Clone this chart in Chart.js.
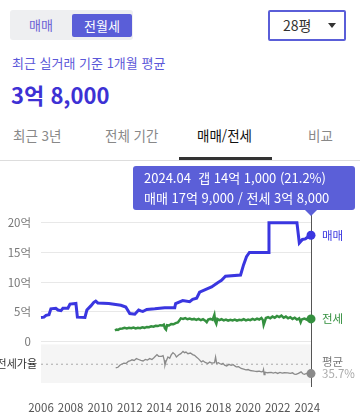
<!DOCTYPE html>
<html lang="ko">
<head>
<meta charset="utf-8">
<script src="https://cdn.jsdelivr.net/npm/chart.js@4.4.1/dist/chart.umd.min.js"></script>
<style>
  body { margin: 0; width: 360px; height: 412px; overflow: hidden; background: #fff; position: relative;
         font-family: "Noto Sans CJK KR", "Noto Sans", sans-serif; }
  .abs { position: absolute; white-space: nowrap; }
  .toggle { left: 10px; top: 10px; width: 123px; height: 30px; background: #eeeff1; border-radius: 3px; }
  .toggle .off { position: absolute; left: 0; top: 0; width: 62px; line-height: 30px; text-align: center; color: #6b63d6; font-size: 13px; }
  .toggle .on { position: absolute; left: 62px; top: 4px; width: 60px; height: 23px; line-height: 23px; text-align: center;
                background: #5a5ed8; color: #fff; font-size: 13px; border-radius: 2px; }
  .select { left: 268px; top: 10px; width: 74px; height: 27px; border: 2px solid #5a5ed8; border-radius: 2px; }
  .select span { position: absolute; left: 13px; top: 0; line-height: 27px; font-size: 14px; color: #333; }
  .select i { position: absolute; left: 58px; top: 11px; width: 0; height: 0; border-left: 4px solid transparent;
              border-right: 4px solid transparent; border-top: 5px solid #333; }
  .sub { left: 12px; top: 53px; line-height: 20px; font-size: 13px; color: #5b57d9; }
  .big { left: 11px; top: 79px; line-height: 30px; font-size: 22px; font-weight: bold; color: #3d31d4; }
  .tab { top: 125px; line-height: 20px; font-size: 13.5px; color: #888; }
  .tab.active { color: #111; }
  .tip { left: 133px; top: 166px; width: 222px; height: 44px; background: #5b5fd8; border-radius: 3px; color: #fff; font-size: 13px; }
  .tip div { position: absolute; left: 11px; line-height: 18px; }
  .arrow { left: 305px; top: 210px; width: 0; height: 0; border-left: 6px solid transparent; border-right: 6px solid transparent;
           border-top: 6px solid #5b5fd8; }
  #wrap { position: absolute; left: 0; top: 200px; width: 360px; height: 212px; }
</style>
</head>
<body>
<div class="abs toggle"><div class="off">매매</div><div class="on">전월세</div></div>
<div class="abs select"><span>28평</span><i></i></div>
<div class="abs sub">최근 실거래 기준 1개월 평균</div>
<div class="abs big">3억 8,000</div>

<div class="abs tab" style="left:13px">최근 3년</div>
<div class="abs tab" style="left:105px">전체 기간</div>
<div class="abs tab active" style="left:197px">매매/전세</div>
<div class="abs tab" style="left:308px">비교</div>
<div class="abs" style="left:0;top:160px;width:360px;height:1px;background:#ddd"></div>
<div class="abs" style="left:179px;top:157px;width:93px;height:3px;background:#333"></div>

<div id="wrap"><canvas id="chart" width="360" height="212"></canvas></div>

<div class="abs tip">
  <div style="top:3px">2024.04&nbsp; 갭 14억 1,000 (21.2%)</div>
  <div style="top:23px">매매 17억 9,000 / 전세 3억 8,000</div>
</div>
<div class="abs arrow"></div>

<script>
// values (x = year, y = 억 / %)
const maemaeX = [2006.0, 2006.2, 2006.34, 2006.54, 2006.67, 2007.0, 2007.15, 2007.35, 2007.48, 2007.82, 2007.96, 2008.36,
  2008.46, 2008.97, 2009.1, 2009.37, 2009.57, 2009.7, 2009.84, 2010.58, 2011.4, 2011.73, 2012.0, 2012.34, 2012.6, 2012.74,
  2012.88, 2013.15, 2013.69, 2014.36, 2015.04, 2015.1, 2015.58, 2016.05, 2016.25, 2016.52, 2016.72, 2017.26, 2017.53,
  2017.94, 2018.2, 2018.47, 2019.49, 2019.69, 2019.89, 2020.09, 2021.37, 2021.41, 2023.3, 2023.46, 2023.67, 2023.87,
  2024.04, 2024.25];
const maemaeY = [4.05, 4.1, 4.4, 4.5, 5.5, 5.6, 5.3, 5.2, 5.6, 5.6, 6.3, 6.4,
  4.1, 4.05, 5.3, 6.0, 6.6, 6.8, 6.5, 6.4, 6.1, 5.8, 4.7, 4.6, 5.3, 5.15,
  5.05, 5.4, 5.5, 5.7, 5.7, 6.4, 6.9, 6.7, 7.1, 7.3, 8.3, 8.9, 9.2,
  9.9, 10.3, 11.0, 11.2, 12.9, 14.3, 15.0, 15.0, 20.0, 20.0, 16.6, 17.2, 17.3,
  17.6, 17.9];

const jeonseX = [2011.0, 2011.1, 2011.2, 2011.35, 2011.5, 2011.65, 2011.8, 2011.95, 2012.1, 2012.25, 2012.4, 2012.55,
  2012.7, 2012.85, 2013.0, 2013.15, 2013.3, 2013.45, 2013.6, 2013.75, 2013.9, 2014.05, 2014.2, 2014.3, 2014.38, 2014.45,
  2014.52, 2014.65, 2014.8, 2014.95, 2015.1, 2015.25, 2015.35, 2015.45, 2015.6, 2015.75, 2015.9, 2016.05, 2016.2, 2016.35,
  2016.5, 2016.65, 2016.8, 2016.95, 2017.1, 2017.2, 2017.3, 2017.45, 2017.6, 2017.72, 2017.78, 2017.85, 2017.92, 2018.05,
  2018.2, 2018.35, 2018.5, 2018.65, 2018.8, 2018.95, 2019.1, 2019.25, 2019.4, 2019.55, 2019.7, 2019.85, 2020.0, 2020.15,
  2020.3, 2020.45, 2020.6, 2020.75, 2020.9, 2021.0, 2021.05, 2021.12, 2021.2, 2021.35, 2021.5, 2021.65, 2021.8, 2021.95,
  2022.1, 2022.25, 2022.4, 2022.55, 2022.7, 2022.85, 2023.0, 2023.15, 2023.3, 2023.45, 2023.55, 2023.62, 2023.8, 2023.95,
  2024.1, 2024.25];
const jeonseY = [1.85, 2.0, 1.95, 2.15, 2.2, 2.3, 2.2, 2.3, 2.25, 2.35, 2.2, 2.3,
  2.25, 2.4, 2.3, 2.45, 2.4, 2.55, 2.5, 2.65, 2.6, 2.75, 2.7, 2.85, 2.2, 2.0,
  2.75, 2.7, 2.95, 2.9, 3.1, 3.2, 3.55, 3.9, 3.8, 3.95, 3.75, 3.85, 3.7, 3.8,
  3.65, 3.8, 3.6, 3.75, 3.5, 3.25, 3.7, 3.8, 3.65, 4.5, 3.4, 3.0, 3.8, 3.6,
  3.75, 3.55, 3.7, 3.5, 3.65, 3.55, 3.7, 3.5, 3.65, 3.6, 3.75, 3.55, 3.7, 3.6,
  3.8, 3.65, 3.85, 3.7, 3.95, 3.6, 2.8, 3.3, 3.95, 4.1, 3.9, 4.2, 4.0, 4.3,
  4.1, 4.35, 4.0, 4.2, 3.9, 4.1, 3.8, 4.0, 3.7, 3.9, 3.25, 3.7, 3.85, 3.7,
  3.95, 3.8];

const ratioX = [2011.05, 2011.2, 2011.35, 2011.45, 2011.6, 2011.75, 2011.9, 2012.0, 2012.15, 2012.3, 2012.45, 2012.6,
  2012.75, 2012.9, 2013.05, 2013.2, 2013.35, 2013.5, 2013.65, 2013.84, 2013.95, 2014.14, 2014.25, 2014.33, 2014.38, 2014.45,
  2014.58, 2014.7, 2014.8, 2014.92, 2015.05, 2015.15, 2015.3, 2015.45, 2015.6, 2015.7, 2015.8, 2015.93, 2016.1, 2016.25,
  2016.38, 2016.5, 2016.65, 2016.84, 2016.95, 2017.1, 2017.28, 2017.4, 2017.55, 2017.73, 2017.8, 2017.87, 2018.0, 2018.07,
  2018.2, 2018.3, 2018.41, 2018.55, 2018.7, 2018.85, 2019.0, 2019.08, 2019.2, 2019.35, 2019.53, 2019.7, 2019.85, 2020.0,
  2020.15, 2020.3, 2020.43, 2020.6, 2020.75, 2020.9, 2021.0, 2021.04, 2021.08, 2021.14, 2021.3, 2021.56, 2021.7, 2021.85,
  2022.0, 2022.15, 2022.3, 2022.45, 2022.68, 2022.85, 2023.0, 2023.12, 2023.24, 2023.4, 2023.58, 2023.7, 2023.8, 2023.95,
  2024.1, 2024.25];
const ratioY = [30.0, 31, 34.5, 35.7, 37.5, 37, 40, 40.7, 42.5, 41.5, 44.4, 43,
  41.5, 40.7, 43, 42, 44.4, 43, 46, 50.5, 48, 47.9, 49, 42, 34.2, 40,
  46.8, 45, 50, 53.6, 51, 46.8, 50, 52, 55.5, 53.5, 54.5, 52, 53, 50.5,
  49.4, 47, 44, 39.2, 41, 38.5, 36.8, 39, 37.5, 38, 46.8, 37, 38, 36.8,
  35.5, 37, 34.2, 33, 35.5, 34, 35, 33.5, 31.5, 32, 29.1, 28, 27, 27.5,
  26, 25.5, 25, 24.5, 25, 24, 24.5, 27.6, 19.5, 23.5, 22.5, 23, 22, 23,
  21.5, 23, 22, 22.5, 22.4, 21.5, 22.5, 20.5, 20, 21.5, 23.9, 21, 20, 21.5,
  20.5, 21.2];

const yearTicks = [2006, 2008, 2010, 2012, 2014, 2016, 2018, 2020, 2022, 2024];
const priceTicks = [0, 5, 10, 15, 20];
const ratioAvg = 35.7;
const cursorYear = 2024.25;

const BLUE = '#3a36e0';
const GREEN = '#34903f';
const GRAY = '#8a8a8a';
const FONT = '"Noto Sans CJK KR", "Noto Sans", sans-serif';

const toPoints = (xs, ys) => xs.map((x, i) => ({ x: x, y: ys[i] }));
const endDot = r => ctx => ctx.dataIndex === ctx.dataset.data.length - 1 ? r : 0;

const overlay = {
  id: 'overlay',
  beforeDatasetsDraw(chart) {
    const { ctx, chartArea: a, scales } = chart;
    const top = scales.y.getPixelForValue(-0.5);
    ctx.save();
    ctx.fillStyle = '#f5f5f5';
    ctx.fillRect(a.left, top, a.right - a.left, a.bottom - top);

    const avg = scales.y2.getPixelForValue(ratioAvg);
    ctx.setLineDash([2, 3]);
    ctx.strokeStyle = '#aaa';
    ctx.lineWidth = 1;
    ctx.beginPath();
    ctx.moveTo(a.left, avg);
    ctx.lineTo(a.right, avg);
    ctx.stroke();

    const cx = Math.round(scales.x.getPixelForValue(cursorYear)) + 0.5;
    ctx.setLineDash([]);
    ctx.strokeStyle = '#555';
    ctx.beginPath();
    ctx.moveTo(cx, 0);
    ctx.lineTo(cx, a.bottom + 4);
    ctx.stroke();
    ctx.restore();
  },
  afterDatasetsDraw(chart) {
    const { ctx, chartArea: a, scales } = chart;
    const lx = a.right + 11;
    const avg = scales.y2.getPixelForValue(ratioAvg);
    ctx.save();
    ctx.font = '11.5px ' + FONT;
    ctx.textBaseline = 'middle';
    ctx.textAlign = 'left';
    ctx.fillStyle = BLUE;
    ctx.fillText('매매', lx, scales.y.getPixelForValue(maemaeY[maemaeY.length - 1]));
    ctx.fillStyle = GREEN;
    ctx.fillText('전세', lx, scales.y.getPixelForValue(jeonseY[jeonseY.length - 1]));
    ctx.fillStyle = '#777';
    ctx.fillText('평균', lx, avg - 2.5);
    ctx.fillStyle = '#aaa';
    ctx.fillText(ratioAvg + '%', lx, avg + 9);
    ctx.fillStyle = '#333';
    ctx.textAlign = 'right';
    ctx.font = '11px ' + FONT;
    ctx.fillText('전세가율', 37, avg);
    ctx.restore();
  }
};

new Chart(document.getElementById('chart'), {
  type: 'line',
  data: {
    datasets: [
      { label: '매매', data: toPoints(maemaeX, maemaeY), yAxisID: 'y', borderColor: BLUE, backgroundColor: BLUE,
        borderWidth: 3, pointRadius: endDot(4.5), pointBorderWidth: 0, clip: false },
      { label: '전세', data: toPoints(jeonseX, jeonseY), yAxisID: 'y', borderColor: GREEN, backgroundColor: GREEN,
        borderWidth: 2.5, pointRadius: endDot(4.5), pointBorderWidth: 0, clip: false },
      { label: '전세가율', data: toPoints(ratioX, ratioY), yAxisID: 'y2', borderColor: GRAY, backgroundColor: GRAY,
        borderWidth: 1.3, pointRadius: endDot(4.5), pointBorderWidth: 0, clip: false }
    ]
  },
  options: {
    responsive: false,
    animation: false,
    events: [],
    layout: { padding: { top: 15, right: 49, left: 0, bottom: 0 } },
    elements: { line: { tension: 0 }, point: { hoverRadius: 0 } },
    plugins: { legend: { display: false }, tooltip: { enabled: false } },
    scales: {
      x: {
        type: 'linear', min: 2006, max: cursorYear,
        grid: { display: false }, border: { display: false },
        afterBuildTicks: s => { s.ticks = yearTicks.map(v => ({ value: v })); },
        afterFit: s => { s.height = 29; },
        ticks: { color: '#555', font: { family: FONT, size: 11.5 }, padding: 10, maxRotation: 0, callback: v => String(v) }
      },
      y: {
        min: -7, max: 21, position: 'left',
        grid: { color: '#e8e8e8', drawTicks: false }, border: { display: false },
        afterBuildTicks: s => { s.ticks = priceTicks.map(v => ({ value: v })); },
        afterFit: s => { s.width = 41; },
        ticks: { color: '#777', font: { family: FONT, size: 11.5 }, padding: 10, callback: v => v === 0 ? '0' : v + '억' }
      },
      y2: { min: 6.7, max: 263.2, display: false }
    }
  },
  plugins: [overlay]
});
</script>
</body>
</html>
